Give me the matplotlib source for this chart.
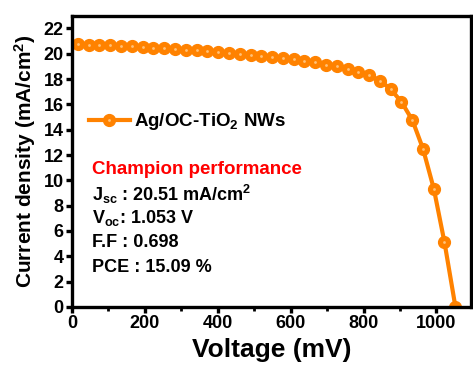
import matplotlib
matplotlib.use("Agg")
import matplotlib.pyplot as plt
from matplotlib.ticker import MultipleLocator
from matplotlib.legend_handler import HandlerTuple

plt.rcParams['font.family'] = ['Liberation Sans', 'DejaVu Sans']
plt.rcParams['font.weight'] = 'bold'
plt.rcParams['mathtext.fontset'] = 'custom'
plt.rcParams['mathtext.rm'] = 'Liberation Sans:bold'
plt.rcParams['mathtext.bf'] = 'Liberation Sans:bold'
plt.rcParams['mathtext.it'] = 'Liberation Sans:bold'

# J-V data
voltage = [16, 46, 75, 105, 134, 164, 194, 223, 253, 282, 312, 342,
           371, 401, 430, 460, 490, 519, 549, 578, 608, 638, 667, 697,
           726, 756, 786, 815, 845, 874, 904, 934, 963, 993, 1022, 1052]
current = [20.75, 20.72, 20.69, 20.66, 20.62, 20.58, 20.54, 20.49, 20.44,
           20.39, 20.33, 20.27, 20.21, 20.14, 20.07, 20.00, 19.93, 19.85,
           19.76, 19.67, 19.57, 19.45, 19.32, 19.15, 19.00, 18.82, 18.58,
           18.30, 17.88, 17.22, 16.20, 14.75, 12.50, 9.30, 5.10, 0.0]

label = "Ag/OC-TiO$_2$ NWs"
info = ["J$_{sc}$ : 20.51 mA/cm$^2$", "V$_{oc}$: 1.053 V", "F.F : 0.698", "PCE : 15.09 %"]
orange = '#FF8200'

fig = plt.figure(figsize=(4.73, 3.68), dpi=100)
ax = fig.add_axes([0.152, 0.166, 0.844, 0.791])

l1, = ax.plot(voltage, current, '-o', color=orange, lw=3, ms=8.5, mec=orange, mew=1, zorder=3)
# pale spot in the middle of each ball
l2, = ax.plot(voltage, current, 'o', color='#FFC27A', ms=2, mec='none', zorder=4)

ax.set_xlim(0, 1095)
ax.set_ylim(0, 23)
ax.xaxis.set_major_locator(MultipleLocator(200))
ax.xaxis.set_minor_locator(MultipleLocator(100))
ax.yaxis.set_major_locator(MultipleLocator(2))

for s in ax.spines.values():
    s.set_linewidth(2.4)
    s.set_zorder(5)
ax.tick_params(which='major', direction='out', length=4, width=2.4, labelsize=13, pad=2)
ax.tick_params(which='minor', direction='out', length=3, width=2)
ax.tick_params(axis='y', which='minor', left=False)

ax.set_xlabel('Voltage (mV)', fontsize=19, fontweight='bold', labelpad=4)
ax.set_ylabel('Current density (mA/cm$^2$)', fontsize=15, fontweight='bold', labelpad=4)

ax.legend([(l1, l2)], [label], handler_map={tuple: HandlerTuple(ndivide=1)},
          loc='center left', bbox_to_anchor=(0.042, 0.636), frameon=False,
          fontsize=13.5, handlelength=2.2, handletextpad=0.2,
          borderpad=0, borderaxespad=0)

ax.text(0.05, 0.471, 'Champion performance', color='red', fontsize=13.5,
        fontweight='bold', transform=ax.transAxes, va='center')
ys = [0.385, 0.306, 0.22, 0.134]
for t, y in zip(info, ys):
    ax.text(0.05, y, t, fontsize=13, fontweight='bold', transform=ax.transAxes, va='center')

fig.savefig('out.png', dpi=100)
